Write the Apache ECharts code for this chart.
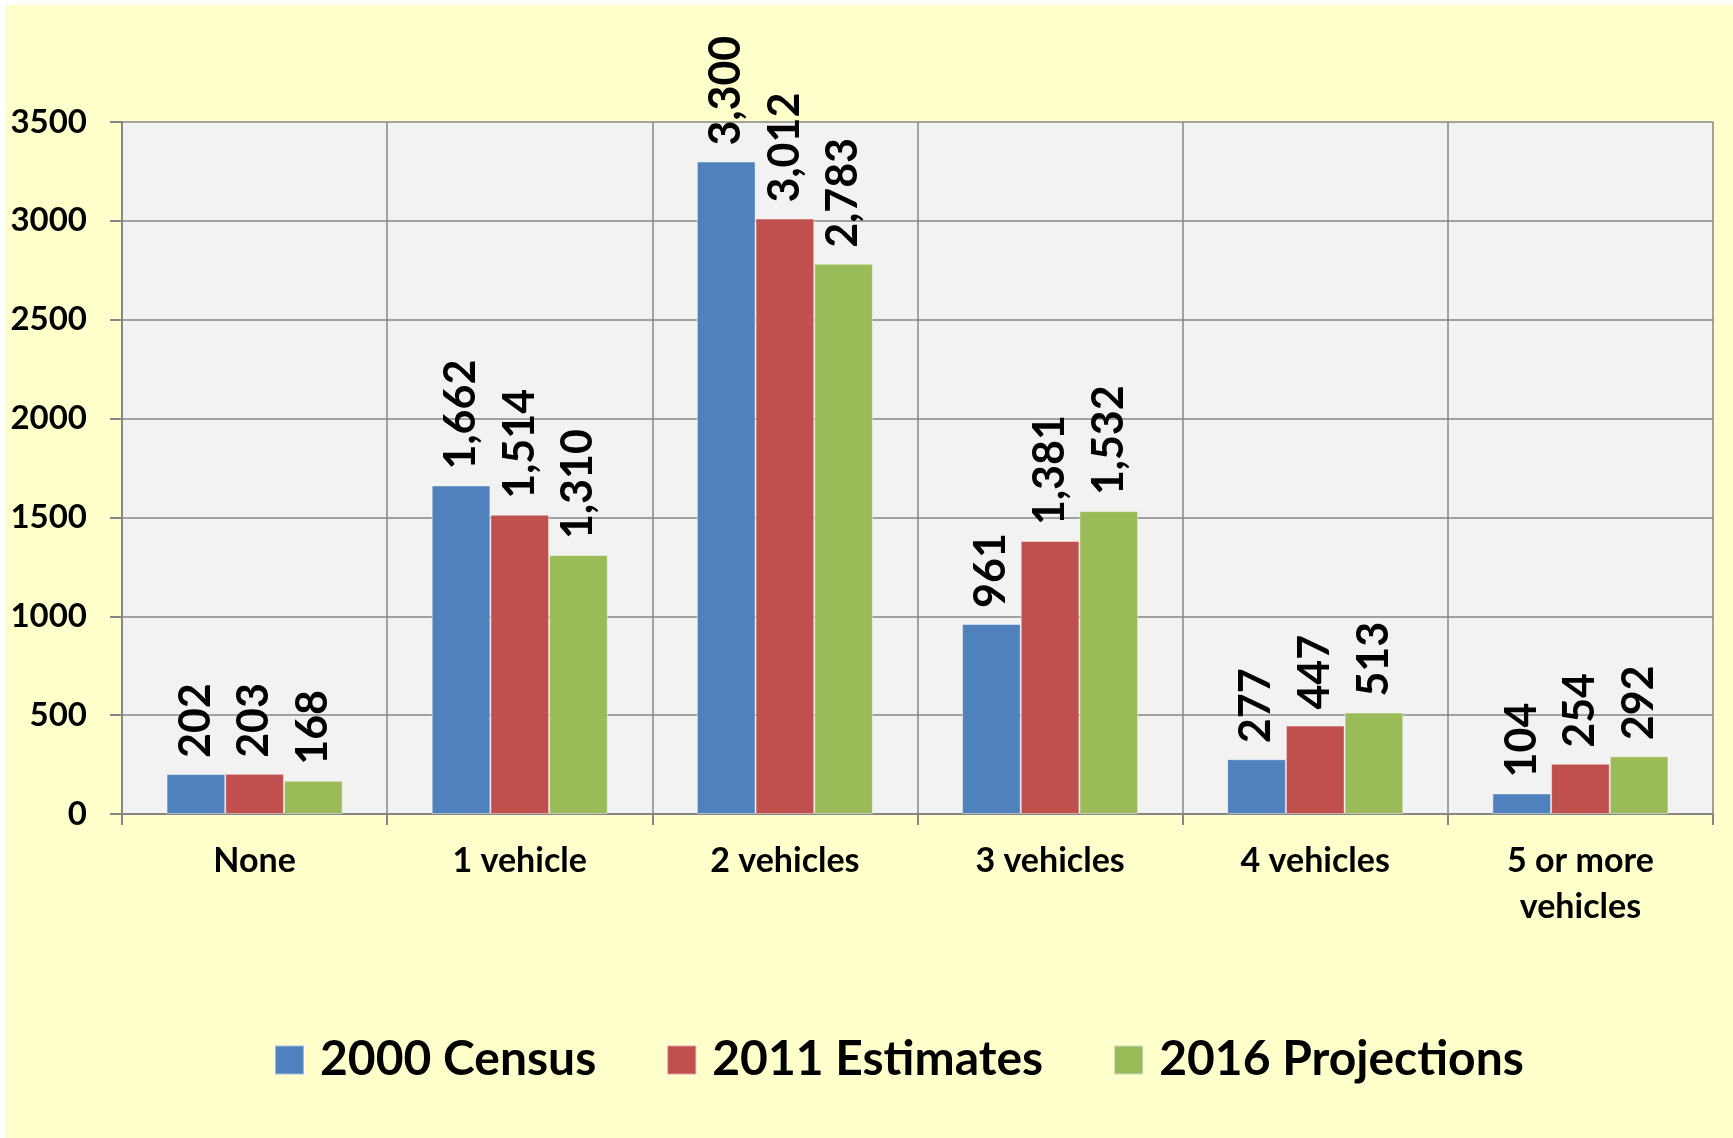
<!DOCTYPE html>
<html>
<head>
<meta charset="utf-8">
<script src="https://cdn.jsdelivr.net/npm/echarts@6/dist/echarts.min.js"></script>
<style>
    html, body { margin: 0; padding: 0; background: #ffffff; }
    #vehicles { position: absolute; left: 5px; top: 5px; width: 1728px; height: 1133px; }
</style>
</head>
<body>
<div id="vehicles"></div>
<script>
var categories = ['None', '1 vehicle', '2 vehicles', '3 vehicles', '4 vehicles', '5 or more\nvehicles'];
var census2000 = [202, 1662, 3300, 961, 277, 104];
var estimates2011 = [203, 1514, 3012, 1381, 447, 254];
var projections2016 = [168, 1310, 2783, 1532, 513, 292];
var yTicks = [0, 500, 1000, 1500, 2000, 2500, 3000, 3500];

var seriesNames = ['2000 Census', '2011 Estimates', '2016 Projections'];
var colors = ['#4F81BD', '#C0504D', '#9BBB59'];
var font = 'Lato';

function comma(v) {
    return String(v).replace(/\B(?=(\d{3})+(?!\d))/g, ',');
}

function barSeries(name, data, color) {
    return {
        name: name,
        type: 'bar',
        data: data,
        barGap: '0%',
        barCategoryGap: '33.6%',
        itemStyle: {
            color: color,
            borderColor: 'rgba(255,255,255,0.45)',
            borderWidth: 1
        },
        label: {
            show: true,
            position: 'top',
            rotate: 90,
            align: 'left',
            verticalAlign: 'middle',
            distance: 16,
            fontFamily: font,
            fontSize: 43,
            fontWeight: 'bold',
            color: '#000',
            formatter: function (p) { return comma(p.value); }
        }
    };
}

var myChart = echarts.init(document.getElementById('vehicles'));
var option = {
    backgroundColor: '#FFFFCC',
    animation: false,
    color: colors,
    grid: {
        left: 117,
        right: 20,
        top: 117,
        bottom: 324,
        outerBoundsMode: 'none',
        show: true,
        backgroundColor: '#F2F2F2',
        borderWidth: 0
    },
    legend: {
        top: 1026,
        left: 264,
        icon: 'rect',
        itemWidth: 29,
        itemHeight: 29,
        itemGap: 70,
        textStyle: {
            fontFamily: font,
            fontSize: 48,
            fontWeight: 'bold',
            color: '#000',
            padding: [0, 0, 0, 11]
        },
        data: seriesNames
    },
    xAxis: {
        type: 'category',
        data: categories,
        axisLine: { lineStyle: { color: '#868686', width: 2 } },
        axisTick: { show: true, length: 11, lineStyle: { color: '#868686', width: 2 } },
        splitLine: { show: true, lineStyle: { color: '#868686', width: 1.5 } },
        axisLabel: {
            margin: 24,
            interval: 0,
            fontFamily: font,
            fontSize: 34,
            fontWeight: 'bold',
            color: '#000',
            lineHeight: 46
        }
    },
    yAxis: {
        type: 'value',
        min: yTicks[0],
        max: yTicks[yTicks.length - 1],
        interval: 500,
        axisLine: { show: true, lineStyle: { color: '#868686', width: 2 } },
        axisTick: { show: true, inside: false, length: 12, lineStyle: { color: '#868686', width: 2 } },
        splitLine: { show: true, lineStyle: { color: '#868686', width: 1.5 } },
        axisLabel: {
            margin: 35,
            fontFamily: font,
            fontSize: 33,
            fontWeight: 'bold',
            color: '#000',
            formatter: function (v) { return String(v); }
        }
    },
    series: [
        barSeries(seriesNames[0], census2000, colors[0]),
        barSeries(seriesNames[1], estimates2011, colors[1]),
        barSeries(seriesNames[2], projections2016, colors[2])
    ]
};
myChart.setOption(option);
</script>
</body>
</html>
